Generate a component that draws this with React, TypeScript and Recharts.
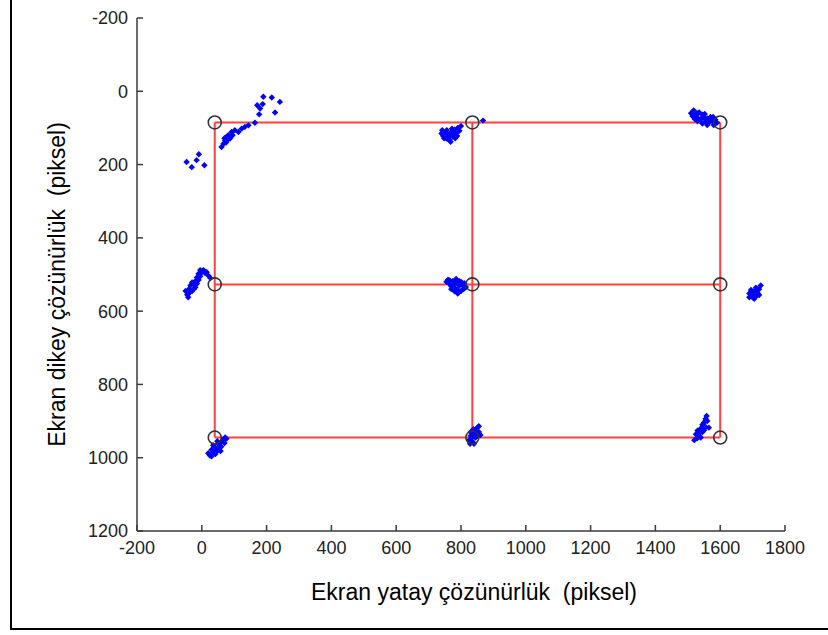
import React from 'react';
import { ScatterChart, Scatter, XAxis, YAxis, Label } from 'recharts';

// Calibration grid (screen pixel targets)
const gridX = [40, 835, 1600];
const gridY = [85, 527, 945];

// Gaze clusters
const clusterTopLeft = [
  { x: -47, y: 193 }, { x: -31, y: 207 }, { x: -16, y: 188 }, { x: -9, y: 172 }, { x: 8, y: 202 },
  { x: 61, y: 152 }, { x: 67, y: 143 }, { x: 72, y: 134 }, { x: 77, y: 124 }, { x: 82, y: 120 },
  { x: 87, y: 129 }, { x: 92, y: 111 }, { x: 102, y: 106 }, { x: 113, y: 111 }, { x: 123, y: 102 },
  { x: 133, y: 97 }, { x: 144, y: 93 }, { x: 164, y: 86 }, { x: 177, y: 63 }, { x: 180, y: 47 },
  { x: 171, y: 38 }, { x: 188, y: 35 }, { x: 190, y: 15 }, { x: 216, y: 17 }, { x: 241, y: 29 },
  { x: 226, y: 58 }, { x: 75, y: 140 }, { x: 95, y: 120 }, { x: 80, y: 132 }, { x: 70, y: 128 },
];
const clusterTopMid = [
  { x: 740, y: 115 }, { x: 745, y: 122 }, { x: 750, y: 112 }, { x: 755, y: 128 }, { x: 760, y: 118 },
  { x: 765, y: 132 }, { x: 770, y: 112 }, { x: 775, y: 122 }, { x: 780, y: 105 }, { x: 785, y: 115 },
  { x: 790, y: 100 }, { x: 795, y: 108 }, { x: 772, y: 102 }, { x: 758, y: 130 }, { x: 782, y: 128 },
  { x: 800, y: 95 }, { x: 868, y: 80 }, { x: 748, y: 128 }, { x: 764, y: 124 }, { x: 778, y: 112 },
  { x: 788, y: 122 }, { x: 768, y: 138 }, { x: 742, y: 106 }, { x: 756, y: 106 },
];
const clusterTopRight = [
  { x: 1510, y: 60 }, { x: 1518, y: 52 }, { x: 1524, y: 66 }, { x: 1530, y: 72 }, { x: 1535, y: 58 },
  { x: 1540, y: 76 }, { x: 1545, y: 64 }, { x: 1550, y: 72 }, { x: 1555, y: 82 }, { x: 1560, y: 74 },
  { x: 1565, y: 86 }, { x: 1570, y: 70 }, { x: 1575, y: 80 }, { x: 1580, y: 92 }, { x: 1585, y: 78 },
  { x: 1590, y: 86 }, { x: 1530, y: 82 }, { x: 1545, y: 88 }, { x: 1560, y: 92 }, { x: 1522, y: 76 },
  { x: 1515, y: 68 }, { x: 1528, y: 60 }, { x: 1552, y: 62 }, { x: 1568, y: 78 }, { x: 1578, y: 70 },
];
const clusterMidLeft = [
  { x: -50, y: 545 }, { x: -45, y: 555 }, { x: -40, y: 540 }, { x: -35, y: 530 }, { x: -30, y: 545 },
  { x: -25, y: 525 }, { x: -20, y: 518 }, { x: -15, y: 508 }, { x: -10, y: 498 }, { x: -5, y: 488 },
  { x: 0, y: 494 }, { x: 5, y: 488 }, { x: 10, y: 496 }, { x: 15, y: 494 }, { x: 20, y: 503 },
  { x: 27, y: 510 }, { x: -20, y: 535 }, { x: -30, y: 522 }, { x: -10, y: 515 }, { x: -42, y: 562 },
  { x: -38, y: 550 }, { x: -15, y: 525 }, { x: -5, y: 505 }, { x: -25, y: 540 },
];
const clusterMidMid = [
  { x: 755, y: 520 }, { x: 760, y: 514 }, { x: 765, y: 526 }, { x: 770, y: 532 }, { x: 775, y: 518 },
  { x: 780, y: 536 }, { x: 785, y: 524 }, { x: 790, y: 542 }, { x: 795, y: 530 }, { x: 800, y: 520 },
  { x: 805, y: 530 }, { x: 810, y: 524 }, { x: 815, y: 534 }, { x: 780, y: 546 }, { x: 790, y: 552 },
  { x: 770, y: 540 }, { x: 800, y: 545 }, { x: 765, y: 516 }, { x: 785, y: 512 }, { x: 795, y: 518 },
  { x: 808, y: 540 }, { x: 775, y: 528 },
];
const clusterMidFar = [
  { x: 1690, y: 552 }, { x: 1695, y: 542 }, { x: 1700, y: 556 }, { x: 1705, y: 546 }, { x: 1710, y: 536 },
  { x: 1715, y: 550 }, { x: 1720, y: 540 }, { x: 1725, y: 530 }, { x: 1700, y: 562 }, { x: 1710, y: 560 },
  { x: 1720, y: 556 }, { x: 1690, y: 562 }, { x: 1705, y: 566 }, { x: 1715, y: 540 }, { x: 1695, y: 550 },
];
const clusterBotLeft = [
  { x: 20, y: 988 }, { x: 25, y: 994 }, { x: 30, y: 978 }, { x: 35, y: 984 }, { x: 40, y: 972 },
  { x: 45, y: 978 }, { x: 50, y: 962 }, { x: 55, y: 968 }, { x: 60, y: 956 }, { x: 65, y: 952 },
  { x: 70, y: 960 }, { x: 76, y: 948 }, { x: 35, y: 966 }, { x: 50, y: 980 }, { x: 60, y: 970 },
  { x: 42, y: 990 }, { x: 30, y: 996 }, { x: 72, y: 945 }, { x: 48, y: 955 }, { x: 58, y: 982 },
];
const clusterBotMid = [
  { x: 825, y: 952 }, { x: 830, y: 940 }, { x: 835, y: 956 }, { x: 830, y: 930 }, { x: 840, y: 935 },
  { x: 845, y: 924 }, { x: 850, y: 918 }, { x: 845, y: 945 }, { x: 855, y: 930 }, { x: 840, y: 962 },
  { x: 850, y: 940 }, { x: 835, y: 945 }, { x: 855, y: 914 }, { x: 828, y: 962 }, { x: 838, y: 922 },
  { x: 860, y: 938 },
];
const clusterBotRight = [
  { x: 1520, y: 952 }, { x: 1525, y: 936 }, { x: 1530, y: 926 }, { x: 1535, y: 940 }, { x: 1540, y: 920 },
  { x: 1545, y: 930 }, { x: 1545, y: 910 }, { x: 1550, y: 904 }, { x: 1555, y: 916 }, { x: 1555, y: 894 },
  { x: 1560, y: 900 }, { x: 1565, y: 918 }, { x: 1540, y: 945 }, { x: 1530, y: 946 }, { x: 1550, y: 925 },
  { x: 1558, y: 886 }, { x: 1535, y: 930 },
];

const xTicks = [-200, 0, 200, 400, 600, 800, 1000, 1200, 1400, 1600, 1800];
const yTicks = [-200, 0, 200, 400, 600, 800, 1000, 1200];

const xTitle = 'Ekran yatay çözünürlük\u00a0 (piksel)';
const yTitle = 'Ekran dikey çözünürlük\u00a0 (piksel)';

const gazePoints = [
  ...clusterTopLeft, ...clusterTopMid, ...clusterTopRight,
  ...clusterMidLeft, ...clusterMidMid, ...clusterMidFar,
  ...clusterBotLeft, ...clusterBotMid, ...clusterBotRight,
];

const targets = gridY.flatMap((y) => gridX.map((x) => ({ x, y })));
const xMin = Math.min(...gridX);
const xMax = Math.max(...gridX);
const yMin = Math.min(...gridY);
const yMax = Math.max(...gridY);
const gridLines = [
  ...gridY.map((y) => [{ x: xMin, y }, { x: xMax, y }]),
  ...gridX.map((x) => [{ x, y: yMin }, { x, y: yMax }]),
];

const FONT = '"Liberation Sans", Arial, sans-serif';
const AXIS = '#3a3a3a';

const Diamond = (p: any) => {
  const { cx, cy } = p;
  const r = 3.2;
  return <path d={`M${cx},${cy - r}L${cx + r},${cy}L${cx},${cy + r}L${cx - r},${cy}Z`} fill="#0000ff" />;
};
const Ring = (p: any) => (
  <circle cx={p.cx} cy={p.cy} r={6.5} fill="none" stroke="#333" strokeWidth={1.6} />
);
const NoDot = () => <g />;

export default function App() {
  return (
    <div style={{ position: 'absolute', left: 0, top: 0, width: 828, height: 635, background: '#fff' }}>
      <div
        style={{
          position: 'absolute', left: 10, top: 0, width: 818, height: 628,
          borderLeft: '2px solid #000', borderBottom: '2px solid #000',
        }}
      />
      <div style={{ position: 'absolute', left: 0, top: 0 }}>
        <ScatterChart width={828} height={635} margin={{ top: 18, right: 43, bottom: 74, left: 77 }}>
          <XAxis
            type="number" dataKey="x" domain={[-200, 1800]} ticks={xTicks} allowDataOverflow
            height={30} tickSize={-6} tickMargin={16}
            axisLine={{ stroke: AXIS, strokeWidth: 1.5 }} tickLine={{ stroke: AXIS, strokeWidth: 1.5 }}
            tick={{ fill: '#222', fontSize: 18, fontFamily: FONT }} interval={0}
          >
            <Label value={xTitle} position="center" dx={13} dy={46}
              style={{ fill: '#000', fontSize: 23, fontFamily: FONT }} />
          </XAxis>
          <YAxis
            type="number" dataKey="y" domain={[-200, 1200]} ticks={yTicks} reversed allowDataOverflow
            width={60} tickSize={-6} tickMargin={15}
            axisLine={{ stroke: AXIS, strokeWidth: 1.5 }} tickLine={{ stroke: AXIS, strokeWidth: 1.5 }}
            tick={{ fill: '#222', fontSize: 18, fontFamily: FONT }} interval={0}
          >
            <Label value={yTitle} position="center" angle={-90} dx={-50} dy={10}
              style={{ fill: '#000', fontSize: 23, fontFamily: FONT, textAnchor: 'middle' }} />
          </YAxis>
          {gridLines.map((seg, i) => (
            <Scatter key={`l${i}`} data={seg} line={{ stroke: '#ff4040', strokeWidth: 2 }}
              lineType="joint" shape={NoDot} isAnimationActive={false} />
          ))}
          <Scatter data={gazePoints} shape={Diamond} isAnimationActive={false} />
          <Scatter data={targets} shape={Ring} isAnimationActive={false} />
        </ScatterChart>
      </div>
    </div>
  );
}
